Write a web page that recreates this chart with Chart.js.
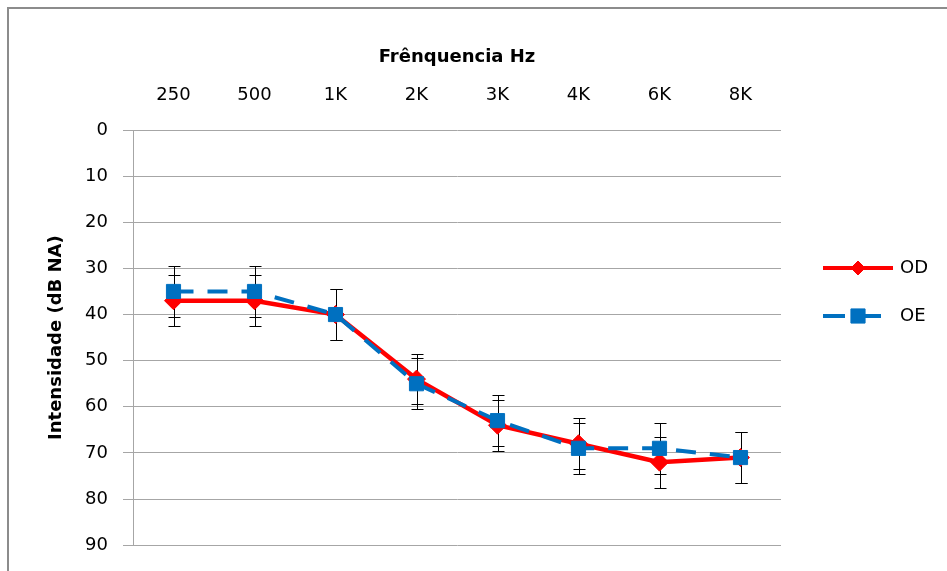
<!DOCTYPE html>
<html><head><meta charset="utf-8">
<script src="https://cdn.jsdelivr.net/npm/chart.js@4/dist/chart.umd.min.js"></script>
<style>html,body{margin:0;padding:0;background:#fff}#wrap{width:947px;height:571px}</style>
</head><body><div id="wrap"><canvas id="c" width="947" height="571"></canvas></div>
<script>
const categories = ['250','500','1K','2K','3K','4K','6K','8K'];
const odValues = [37,37,40,54,64,68,72,71];
const oeValues = [35,35,40,55,63,69,69,71];
const odError = [5.5,5.5,5.5,5.5,5.5,5.5,5.5,5.5];
const oeError = [5.5,5.5,5.5,5.5,5.5,5.5,5.5,5.5];
const yTicks = [0,10,20,30,40,50,60,70,80,90];
const xTitle = 'Frênquencia Hz';
const yTitle = 'Intensidade (dB NA)';

const FONT = 'DejaVu Sans';
const gridColor = '#a6a6a6';

const frame = {
  id:'frame',
  beforeDraw(chart){
    const ctx = chart.ctx;
    ctx.save();
    ctx.fillStyle='#fff';ctx.fillRect(0,0,chart.width,chart.height);
    ctx.strokeStyle='#8c8c8c';ctx.lineWidth=2;
    ctx.strokeRect(8,8,1200,1200);
    ctx.restore();
  }
};

const errorBars = {
  id:'errorBars',
  beforeDatasetsDraw(chart){
    const ctx = chart.ctx, x = chart.scales.x, y = chart.scales.y;
    ctx.save();
    ctx.strokeStyle='#000';ctx.lineWidth=1;
    chart.data.datasets.forEach(ds=>{
      ds.data.forEach((v,i)=>{
        const e = ds.errors[i];
        const px = Math.round(x.getPixelForValue(i))+0.5;
        const t = Math.round(y.getPixelForValue(v-e))+0.5;
        const b = Math.round(y.getPixelForValue(v+e))+0.5;
        ctx.beginPath();
        ctx.moveTo(px,t);ctx.lineTo(px,b);
        ctx.moveTo(px-6,t);ctx.lineTo(px+6,t);
        ctx.moveTo(px-6,b);ctx.lineTo(px+6,b);
        ctx.stroke();
      });
    });
    ctx.restore();
  }
};

const customLegend = {
  id:'customLegend',
  afterDraw(chart){
    const ctx = chart.ctx;
    const items = [
      {ds:chart.data.datasets[0], segs:[[823,893]], r:7},
      {ds:chart.data.datasets[1], segs:[[823,845],[852,881]], r:10}
    ];
    ctx.save();
    items.forEach((it,k)=>{
      const ds = it.ds;
      const yy = 268 + k*48;
      ctx.strokeStyle = ds.borderColor; ctx.lineWidth = 4;
      ctx.beginPath();
      it.segs.forEach(s=>{ctx.moveTo(s[0],yy); ctx.lineTo(s[1],yy);});
      ctx.stroke();
      ctx.fillStyle = ds.pointBackgroundColor; ctx.strokeStyle = ds.pointBorderColor; ctx.lineWidth = 1;
      Chart.helpers.drawPoint(ctx,{pointStyle:ds.pointStyle,radius:it.r,borderWidth:1},858,yy);
      ctx.fillStyle='#000'; ctx.font = '18px "'+FONT+'"'; ctx.textBaseline='middle'; ctx.textAlign='left';
      ctx.fillText(ds.label, 900, yy);
    });
    ctx.restore();
  }
};

new Chart(document.getElementById('c'),{
  type:'line',
  data:{
    labels:categories,
    datasets:[
      {label:'OD',data:odValues,errors:odError,borderColor:'#ff0000',backgroundColor:'#ff0000',
       pointBackgroundColor:'#ff0000',pointBorderColor:'#ff0000',borderWidth:4.5,pointStyle:'rectRot',
       pointRadius:9,pointBorderWidth:1,order:1,tension:0},
      {label:'OE',data:oeValues,errors:oeError,borderColor:'#0070c0',backgroundColor:'#0070c0',
       pointBackgroundColor:'#0070c0',pointBorderColor:'#0070c0',borderWidth:4,borderDash:[20,14],pointStyle:'rect',
       pointRadius:10,pointBorderWidth:1,order:0,tension:0}
    ]
  },
  options:{
    responsive:false,animation:false,
    layout:{padding:{left:0,top:0,right:166,bottom:25}},
    plugins:{legend:{display:false},tooltip:{enabled:false}},
    scales:{
      x:{position:'top',offset:true,
        grid:{display:false,drawTicks:false},border:{display:false},
        ticks:{color:'#000',font:{family:FONT,size:18},padding:24,maxRotation:0},
        title:{display:true,text:xTitle,color:'#000',font:{family:FONT,size:18,weight:'bold'},padding:{top:47,bottom:0}},
        afterFit(s){s.height=130;}
      },
      y:{reverse:true,min:0,max:90,
        afterBuildTicks(s){s.ticks=yTicks.map(v=>({value:v}));},
        grid:{color:gridColor,lineWidth:1,tickLength:10},border:{display:true,color:gridColor,width:1},
        ticks:{color:'#000',font:{family:FONT,size:18},padding:15},
        title:{display:true,text:yTitle,color:'#000',font:{family:FONT,size:18,weight:'bold'},padding:{top:46,bottom:0}},
        afterFit(s){s.width=133;}
      }
    }
  },
  plugins:[frame,errorBars,customLegend]
});
</script></body></html>
